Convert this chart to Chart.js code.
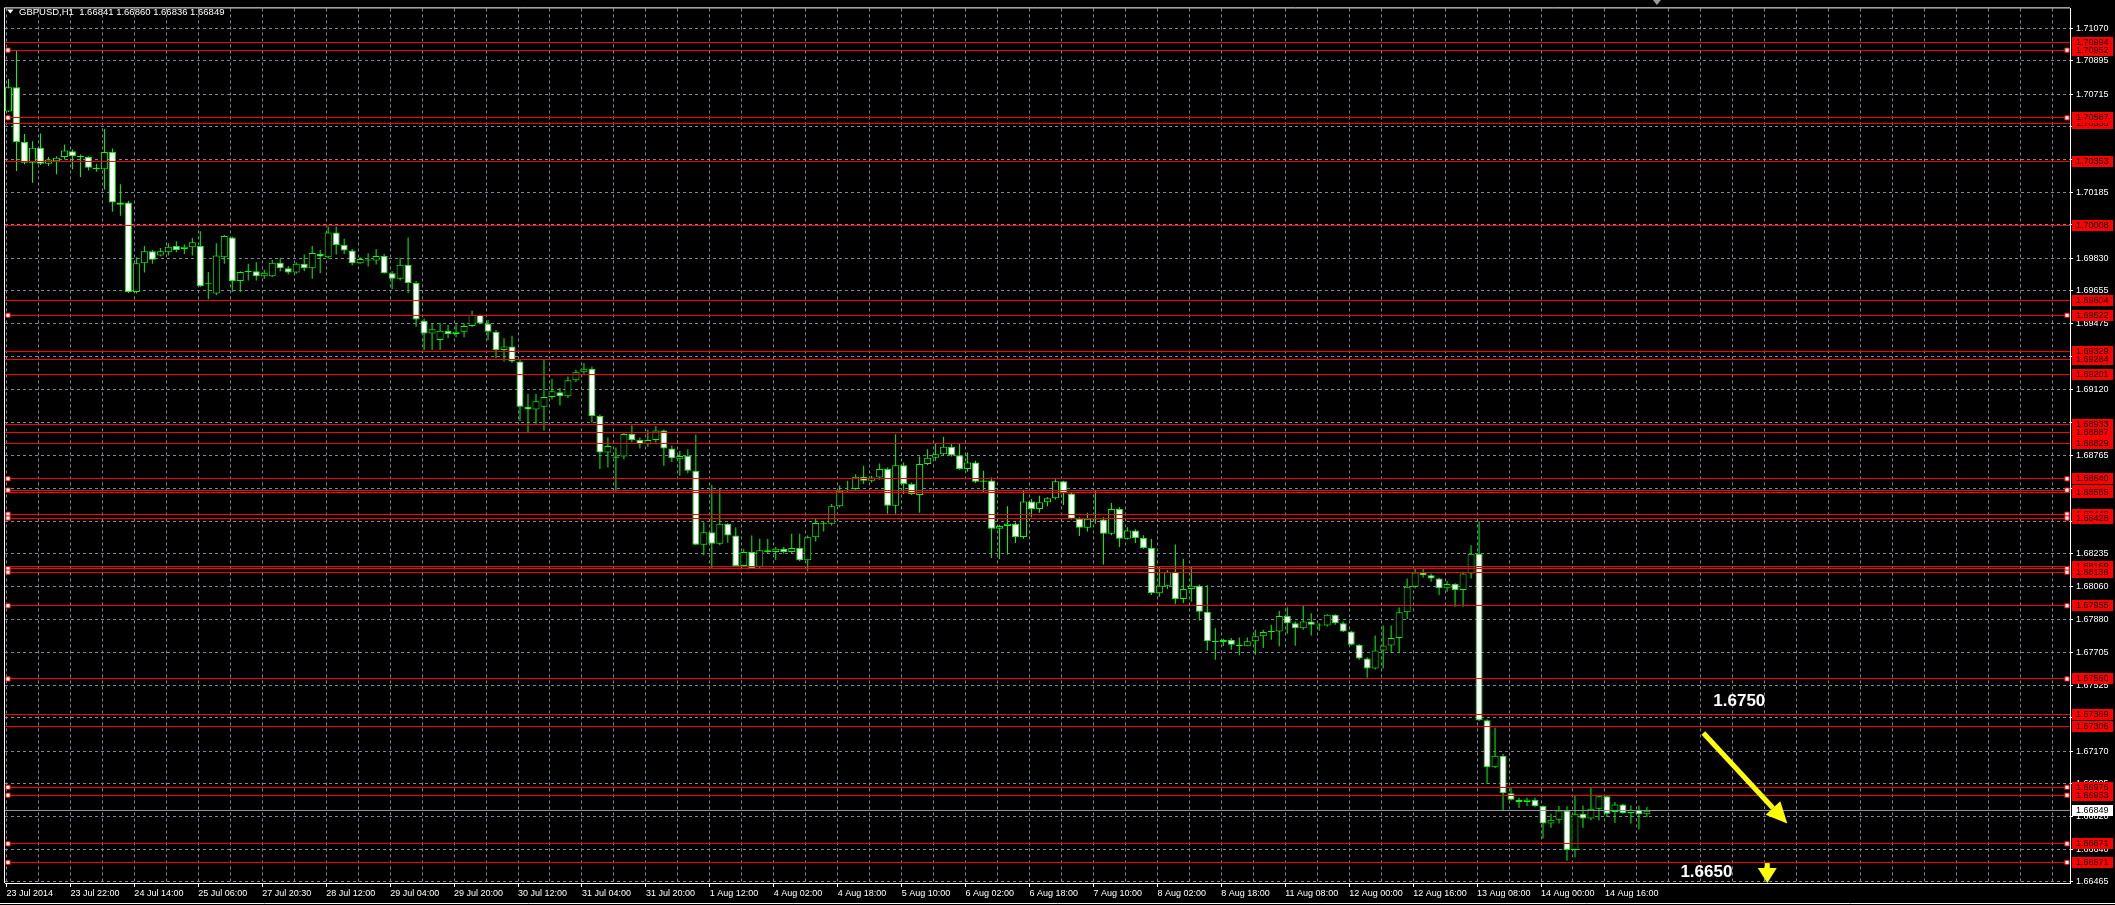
<!DOCTYPE html>
<html>
<head>
<meta charset="utf-8">
<script src="https://cdn.jsdelivr.net/npm/chart.js@4.4.1/dist/chart.umd.min.js"></script>
<style>
  html, body { margin: 0; padding: 0; background: #000; }
  #wrap { width: 2115px; height: 905px; }
</style>
</head>
<body>
<div id="wrap"><canvas id="chart" width="2115" height="905"></canvas></div>
<script>
// GBPUSD H1, one candle per two hourly bars
const openP = [
  1.70621,1.70752,1.70457,1.70344,1.70425,1.70339,1.70353,1.70375,1.70407,1.70380,
  1.70375,1.70318,1.70309,1.70403,1.70130,1.70130,1.69648,1.69803,1.69867,1.69844,
  1.69862,1.69896,1.69880,1.69889,1.69896,1.69689,1.69639,1.69835,1.69942,1.69707,
  1.69755,1.69760,1.69732,1.69732,1.69805,1.69776,1.69753,1.69800,1.69776,1.69853,
  1.69835,1.69969,1.69901,1.69871,1.69803,1.69821,1.69817,1.69842,1.69749,1.69719,
  1.69794,1.69696,1.69492,1.69424,1.69389,1.69439,1.69421,1.69433,1.69464,1.69523,
  1.69478,1.69433,1.69335,1.69353,1.69273,1.69028,1.69013,1.69028,1.69081,1.69106,
  1.69085,1.69171,1.69214,1.69233,1.68978,1.68781,1.68754,1.68760,1.68881,1.68849,
  1.68826,1.68849,1.68901,1.68803,1.68745,1.68763,1.68683,1.68284,1.68352,1.68290,
  1.68397,1.68334,1.68170,1.68245,1.68165,1.68254,1.68245,1.68263,1.68245,1.68266,
  1.68200,1.68325,1.68402,1.68397,1.68492,1.68576,1.68585,1.68651,1.68629,1.68647,
  1.68692,1.68495,1.68713,1.68612,1.68553,1.68720,1.68754,1.68772,1.68813,1.68767,
  1.68692,1.68728,1.68624,1.68631,1.68370,1.68385,1.68397,1.68326,1.68517,1.68477,
  1.68513,1.68535,1.68626,1.68561,1.68424,1.68376,1.68424,1.68420,1.68343,1.68477,
  1.68317,1.68361,1.68320,1.68267,1.68022,1.68063,1.68138,1.67991,1.68045,1.68063,
  1.67923,1.67763,1.67759,1.67770,1.67745,1.67736,1.67763,1.67790,1.67813,1.67816,
  1.67900,1.67861,1.67834,1.67870,1.67852,1.67848,1.67906,1.67861,1.67816,1.67745,
  1.67670,1.67616,1.67713,1.67741,1.67781,1.67920,1.68057,1.68134,1.68120,1.68102,
  1.68049,1.68072,1.68040,1.68129,1.68236,1.67337,1.67084,1.67146,1.66944,1.66909,
  1.66896,1.66909,1.66875,1.66780,1.66801,1.66851,1.66637,1.66833,1.66807,1.66860,
  1.66928,1.66842,1.66883,1.66837,1.66855,1.66830
];
const highP = [
  1.70797,1.70947,1.70500,1.70461,1.70502,1.70375,1.70380,1.70443,1.70416,1.70389,
  1.70380,1.70339,1.70527,1.70421,1.70228,1.70139,1.69835,1.69896,1.69874,1.69885,
  1.69910,1.69921,1.69903,1.69939,1.69975,1.69755,1.69910,1.69955,1.69946,1.69760,
  1.69800,1.69808,1.69767,1.69821,1.69832,1.69787,1.69807,1.69850,1.69896,1.69874,
  1.70001,1.70001,1.69934,1.69880,1.69835,1.69857,1.69880,1.69853,1.69760,1.69832,
  1.69942,1.69707,1.69505,1.69478,1.69482,1.69469,1.69474,1.69478,1.69546,1.69528,
  1.69496,1.69442,1.69398,1.69412,1.69281,1.69099,1.69099,1.69281,1.69178,1.69130,
  1.69192,1.69228,1.69264,1.69246,1.68987,1.68862,1.68808,1.68888,1.68928,1.68862,
  1.68906,1.68924,1.68906,1.68820,1.68790,1.68799,1.68879,1.68406,1.68606,1.68588,
  1.68400,1.68379,1.68263,1.68334,1.68316,1.68316,1.68272,1.68272,1.68343,1.68343,
  1.68334,1.68424,1.68409,1.68504,1.68603,1.68629,1.68665,1.68710,1.68656,1.68722,
  1.68701,1.68880,1.68728,1.68620,1.68760,1.68799,1.68829,1.68867,1.68829,1.68829,
  1.68781,1.68737,1.68683,1.68647,1.68392,1.68492,1.68406,1.68581,1.68531,1.68549,
  1.68540,1.68638,1.68629,1.68567,1.68433,1.68456,1.68581,1.68433,1.68509,1.68486,
  1.68379,1.68367,1.68335,1.68317,1.68165,1.68147,1.68286,1.68209,1.68165,1.68070,
  1.68066,1.67834,1.67777,1.67781,1.67784,1.67784,1.67825,1.67825,1.67852,1.67927,
  1.67947,1.67870,1.67956,1.67915,1.67861,1.67909,1.67909,1.67870,1.67820,1.67748,
  1.67677,1.67795,1.67848,1.67848,1.67945,1.68102,1.68156,1.68156,1.68129,1.68106,
  1.68088,1.68076,1.68138,1.68281,1.68411,1.67343,1.67298,1.67155,1.66976,1.66919,
  1.66919,1.66919,1.66878,1.66833,1.66875,1.66873,1.66932,1.66878,1.66973,1.66932,
  1.66932,1.66896,1.66887,1.66878,1.66878,1.66869
];
const lowP = [
  1.70618,1.70300,1.70336,1.70237,1.70332,1.70327,1.70282,1.70362,1.70309,1.70268,
  1.70303,1.70296,1.70200,1.70080,1.70059,1.69642,1.69639,1.69753,1.69800,1.69839,
  1.69844,1.69862,1.69853,1.69844,1.69674,1.69608,1.69630,1.69800,1.69648,1.69648,
  1.69710,1.69710,1.69719,1.69728,1.69760,1.69742,1.69746,1.69760,1.69719,1.69749,
  1.69828,1.69850,1.69853,1.69792,1.69800,1.69785,1.69796,1.69746,1.69662,1.69710,
  1.69642,1.69460,1.69335,1.69335,1.69335,1.69398,1.69403,1.69403,1.69457,1.69474,
  1.69389,1.69290,1.69273,1.69264,1.68951,1.68888,1.68937,1.68901,1.69067,1.69035,
  1.69076,1.69160,1.69206,1.68942,1.68692,1.68701,1.68570,1.68745,1.68835,1.68803,
  1.68813,1.68835,1.68710,1.68731,1.68656,1.68670,1.68281,1.68227,1.68156,1.68281,
  1.68295,1.68165,1.68165,1.68156,1.68159,1.68236,1.68200,1.68236,1.68236,1.68195,
  1.68141,1.68302,1.68356,1.68388,1.68486,1.68567,1.68581,1.68612,1.68620,1.68635,
  1.68451,1.68451,1.68558,1.68553,1.68456,1.68713,1.68737,1.68763,1.68760,1.68688,
  1.68678,1.68617,1.68567,1.68213,1.68206,1.68231,1.68293,1.68317,1.68433,1.68456,
  1.68492,1.68528,1.68499,1.68420,1.68331,1.68356,1.68397,1.68177,1.68335,1.68272,
  1.68313,1.68293,1.68263,1.68013,1.68004,1.68045,1.67963,1.67968,1.67977,1.67875,
  1.67713,1.67664,1.67736,1.67718,1.67688,1.67736,1.67691,1.67727,1.67772,1.67736,
  1.67804,1.67739,1.67825,1.67795,1.67820,1.67843,1.67852,1.67813,1.67741,1.67664,
  1.67566,1.67611,1.67616,1.67700,1.67700,1.67884,1.68049,1.68106,1.68084,1.68013,
  1.68031,1.67950,1.67950,1.68102,1.67334,1.66994,1.67080,1.66851,1.66905,1.66864,
  1.66875,1.66869,1.66699,1.66758,1.66780,1.66580,1.66598,1.66758,1.66798,1.66798,
  1.66816,1.66783,1.66833,1.66780,1.66748,1.66816
];
const closeP = [
  1.70752,1.70457,1.70344,1.70425,1.70339,1.70362,1.70371,1.70411,1.70380,1.70375,
  1.70318,1.70309,1.70403,1.70130,1.70118,1.69648,1.69803,1.69867,1.69821,1.69867,
  1.69892,1.69874,1.69892,1.69916,1.69680,1.69695,1.69844,1.69950,1.69707,1.69755,
  1.69760,1.69732,1.69751,1.69805,1.69776,1.69753,1.69800,1.69776,1.69858,1.69839,
  1.69969,1.69901,1.69871,1.69803,1.69825,1.69817,1.69842,1.69749,1.69719,1.69794,
  1.69696,1.69499,1.69424,1.69446,1.69439,1.69421,1.69433,1.69464,1.69523,1.69478,
  1.69433,1.69335,1.69353,1.69273,1.69028,1.69013,1.69058,1.69081,1.69112,1.69085,
  1.69171,1.69214,1.69233,1.68978,1.68781,1.68817,1.68760,1.68881,1.68849,1.68826,
  1.68849,1.68901,1.68803,1.68751,1.68763,1.68683,1.68284,1.68352,1.68290,1.68397,
  1.68334,1.68170,1.68245,1.68159,1.68254,1.68245,1.68263,1.68245,1.68266,1.68200,
  1.68325,1.68402,1.68397,1.68492,1.68576,1.68581,1.68651,1.68629,1.68647,1.68692,
  1.68495,1.68713,1.68612,1.68558,1.68720,1.68754,1.68772,1.68813,1.68767,1.68692,
  1.68728,1.68624,1.68631,1.68370,1.68385,1.68397,1.68326,1.68517,1.68477,1.68513,
  1.68535,1.68626,1.68561,1.68424,1.68376,1.68424,1.68420,1.68343,1.68477,1.68317,
  1.68361,1.68320,1.68267,1.68022,1.68063,1.68138,1.67991,1.68045,1.68063,1.67923,
  1.67763,1.67759,1.67770,1.67745,1.67736,1.67763,1.67790,1.67813,1.67816,1.67900,
  1.67861,1.67834,1.67870,1.67852,1.67848,1.67906,1.67861,1.67816,1.67745,1.67670,
  1.67616,1.67713,1.67741,1.67781,1.67920,1.68057,1.68134,1.68120,1.68102,1.68049,
  1.68072,1.68040,1.68129,1.68236,1.67337,1.67084,1.67146,1.66944,1.66909,1.66896,
  1.66909,1.66875,1.66780,1.66801,1.66851,1.66637,1.66833,1.66807,1.66860,1.66928,
  1.66833,1.66883,1.66837,1.66855,1.66830,1.66849
];

const timeLabels = [
  '23 Jul 2014','23 Jul 22:00','24 Jul 14:00','25 Jul 06:00','27 Jul 20:30','28 Jul 12:00',
  '29 Jul 04:00','29 Jul 20:00','30 Jul 12:00','31 Jul 04:00','31 Jul 20:00','1 Aug 12:00',
  '4 Aug 02:00','4 Aug 18:00','5 Aug 10:00','6 Aug 02:00','6 Aug 18:00','7 Aug 10:00',
  '8 Aug 02:00','8 Aug 18:00','11 Aug 08:00','12 Aug 00:00','12 Aug 16:00','13 Aug 08:00',
  '14 Aug 00:00','14 Aug 16:00'
];
const priceTicks = [
  1.71070,1.70895,1.70715,1.70540,1.70360,1.70185,1.70010,1.69830,1.69655,1.69475,
  1.69300,1.69120,1.68945,1.68765,1.68590,1.68410,1.68235,1.68060,1.67880,1.67705,
  1.67525,1.67350,1.67170,1.66995,1.66820,1.66640,1.66465
];
// horizontal levels, in the order their price boxes are painted
const levelPrices = [
  1.70994,1.70952,1.70555,1.70587,1.70353,1.70008,1.69604,1.69522,1.69329,1.69284,
  1.69201,1.68933,1.68887,1.68829,1.68640,1.68579,1.68565,1.68449,1.68428,1.68155,
  1.68169,1.68136,1.67955,1.67560,1.67369,1.67306,1.66976,1.66933,1.66671,1.66571
];
const markedLevels = [
  1.70952,1.70587,1.69522,1.68640,1.68579,1.68449,1.68428,1.68155,1.68136,1.67955,
  1.67560,1.66976,1.66933,1.66671,1.66571
];
const bidPrice = 1.66849;
const titleText = 'GBPUSD,H1  1.66841 1.66860 1.66836 1.66849';

// axis ranges (x in candle units, y in price)
const xMin = -0.4375, xMax = 257.9375;
const yMin = 1.664595, yMax = 1.711772;

// hand-drawn notes on the chart
const notes = [
  { text: '1.6750', x: 213.31, y: 1.674406 },
  { text: '1.6650', x: 209.19, y: 1.665185 }
];
const arrows = [
  { x1: 212.06, y1: 1.67269, x2: 222.56, y2: 1.66781, head: 21, half: 10, shaft: 5 },
  { x1: 220.06, y1: 1.66567, x2: 220.06, y2: 1.664595, head: 15, half: 9.5, shaft: 5 }
];

const FONT = 'Liberation Sans';
const GRID = '#778899';
const GREEN = '#00ff00';

const idx = openP.map((_, i) => i);
const wickData = idx.map(i => ({ x: i, y: [lowP[i], highP[i]] }));
const bodyData = idx.map(i => ({ x: i, y: [Math.min(openP[i], closeP[i]), Math.max(openP[i], closeP[i])] }));
const bodyFill = idx.map(i => closeP[i] < openP[i] ? '#ffffff' : '#000000');

const levelSets = levelPrices.map(p => ({
  type: 'line',
  data: [{ x: xMin, y: p }, { x: xMax, y: p }],
  snapY: p,
  borderColor: '#ff0000',
  borderWidth: 1,
  pointRadius: 0,
  order: 1
}));

const markerData = [];
markedLevels.forEach(p => {
  markerData.push({ x: xMin + 0.375, y: p });
  markerData.push({ x: xMax - 0.375, y: p });
});

function drawArrow(ctx, x1, y1, x2, y2, head, half, shaft) {
  const a = Math.atan2(y2 - y1, x2 - x1);
  const bx = x2 - head * Math.cos(a), by = y2 - head * Math.sin(a);
  ctx.lineWidth = shaft;
  ctx.beginPath();
  ctx.moveTo(x1, y1);
  ctx.lineTo(bx, by);
  ctx.stroke();
  ctx.beginPath();
  ctx.moveTo(x2, y2);
  ctx.lineTo(bx + half * Math.sin(a), by - half * Math.cos(a));
  ctx.lineTo(bx - half * Math.sin(a), by + half * Math.cos(a));
  ctx.closePath();
  ctx.fill();
}

// keep the 1px horizontal lines on whole pixels
const snapLines = {
  id: 'snapLines',
  beforeDatasetDraw(chart, args) {
    const ds = chart.data.datasets[args.index];
    if (ds.snapY === undefined) return;
    const py = chart.scales.y.getPixelForValue(ds.snapY);
    chart.ctx.save();
    chart.ctx.translate(0, Math.floor(py) + 0.5 - py);
  },
  afterDatasetDraw(chart, args) {
    const ds = chart.data.datasets[args.index];
    if (ds.snapY !== undefined) chart.ctx.restore();
  }
};

const mt4Overlay = {
  id: 'mt4Overlay',
  afterDraw(chart) {
    const { ctx, chartArea: ca } = chart;
    const xs = chart.scales.x, ys = chart.scales.y;
    ctx.save();

    // frame top/left and window bottom line
    ctx.strokeStyle = '#ffffff';
    ctx.lineWidth = 1;
    ctx.beginPath();
    ctx.moveTo(ca.left - 0.5, ca.bottom);
    ctx.lineTo(ca.left - 0.5, ca.top - 0.5);
    ctx.lineTo(ca.right, ca.top - 0.5);
    ctx.stroke();
    ctx.beginPath();
    ctx.moveTo(0, chart.height - 1.5);
    ctx.lineTo(chart.width, chart.height - 1.5);
    ctx.stroke();

    // title
    ctx.fillStyle = '#ffffff';
    ctx.beginPath();
    ctx.moveTo(7, 9.5); ctx.lineTo(13.5, 9.5); ctx.lineTo(10.25, 13.5);
    ctx.closePath(); ctx.fill();
    ctx.font = '9.5px "' + FONT + '"';
    ctx.textBaseline = 'middle';
    ctx.textAlign = 'left';
    ctx.fillText(titleText, 19, 12);

    // shift marker
    const sx = xs.getPixelForValue(openP.length - 1) + 10;
    ctx.fillStyle = '#9a9a9a';
    ctx.beginPath();
    ctx.moveTo(sx - 4, 0); ctx.lineTo(sx + 4, 0); ctx.lineTo(sx, 5);
    ctx.closePath(); ctx.fill();

    // price boxes of the levels
    ctx.font = '9px "' + FONT + '"';
    levelPrices.forEach(p => {
      const py = Math.floor(ys.getPixelForValue(p));
      ctx.fillStyle = '#ff0000';
      ctx.fillRect(ca.right + 2, py - 5, 41, 11);
      ctx.fillStyle = '#000000';
      ctx.fillText(p.toFixed(5), ca.right + 6, py + 1);
    });
    const by = Math.floor(ys.getPixelForValue(bidPrice));
    ctx.fillStyle = '#ffffff';
    ctx.fillRect(ca.right + 2, by - 5, 41, 11);
    ctx.fillStyle = '#000000';
    ctx.fillText(bidPrice.toFixed(5), ca.right + 6, by + 1);

    // notes and arrows
    ctx.fillStyle = '#ffffff';
    ctx.font = 'bold 17px "' + FONT + '"';
    notes.forEach(n => {
      ctx.fillText(n.text, xs.getPixelForValue(n.x), ys.getPixelForValue(n.y));
    });
    ctx.fillStyle = '#ffff00';
    ctx.strokeStyle = '#ffff00';
    arrows.forEach(a => {
      drawArrow(ctx, xs.getPixelForValue(a.x1), ys.getPixelForValue(a.y1),
        xs.getPixelForValue(a.x2), ys.getPixelForValue(a.y2), a.head, a.half, a.shaft);
    });
    ctx.restore();
  }
};

new Chart(document.getElementById('chart'), {
  type: 'bar',
  data: {
    datasets: [
      {
        type: 'line',
        data: markerData,
        showLine: false,
        pointStyle: 'rect',
        pointRadius: 3,
        pointBackgroundColor: '#ffffff',
        pointBorderColor: '#ff0000',
        pointBorderWidth: 1,
        order: 0
      },
      {
        type: 'line',
        data: [{ x: xMin, y: bidPrice }, { x: xMax, y: bidPrice }],
        snapY: bidPrice,
        borderColor: '#8f959c',
        borderWidth: 1,
        pointRadius: 0,
        order: 1
      },
      ...levelSets,
      {
        data: bodyData,
        grouped: false,
        backgroundColor: bodyFill,
        borderColor: GREEN,
        borderWidth: 1,
        borderSkipped: false,
        categoryPercentage: 1,
        barPercentage: 0.875,
        minBarLength: 1,
        inflateAmount: 0,
        order: 2
      },
      {
        data: wickData,
        grouped: false,
        backgroundColor: GREEN,
        borderWidth: 0,
        categoryPercentage: 1,
        barPercentage: 0.125,
        inflateAmount: 0,
        order: 3
      }
    ]
  },
  options: {
    responsive: false,
    animation: false,
    events: [],
    layout: { padding: { left: 3, top: 3, right: 0, bottom: 0 } },
    plugins: { legend: { display: false }, tooltip: { enabled: false } },
    scales: {
      x: {
        type: 'linear',
        min: xMin,
        max: xMax,
        offset: false,
        afterFit: s => { s.height = 22; },
        afterBuildTicks: s => {
          const t = [];
          for (let v = -0.25; v <= xMax; v += 4) t.push({ value: v });
          s.ticks = t;
        },
        ticks: {
          autoSkip: false,
          maxRotation: 0,
          minRotation: 0,
          align: 'start',
          padding: 1,
          color: '#ffffff',
          font: { family: FONT, size: 9 },
          callback: (v, i) => (i % 2 === 0 && timeLabels[i / 2]) ? timeLabels[i / 2] : ''
        },
        grid: {
          offset: false,
          color: GRID,
          tickLength: 4,
          tickColor: c => (c.index % 2 === 0 && c.index / 2 < timeLabels.length) ? '#ffffff' : 'rgba(0,0,0,0)'
        },
        border: { color: '#ffffff', dash: [3, 3] }
      },
      y: {
        type: 'linear',
        position: 'right',
        min: yMin,
        max: yMax,
        afterFit: s => { s.width = 45; },
        afterBuildTicks: s => { s.ticks = priceTicks.map(v => ({ value: v })); },
        ticks: {
          autoSkip: false,
          padding: 3,
          color: '#ffffff',
          font: { family: FONT, size: 9 },
          callback: v => v.toFixed(5)
        },
        grid: { color: GRID, tickLength: 3, tickColor: '#ffffff' },
        border: { color: '#ffffff', dash: [3, 3] }
      }
    }
  },
  plugins: [snapLines, mt4Overlay]
});
</script>
</body>
</html>
